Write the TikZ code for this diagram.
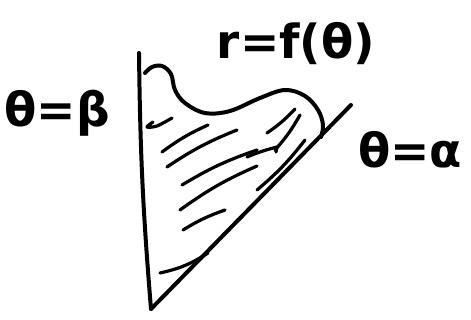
\documentclass[tikz,border=0pt]{standalone}
\usepackage{fontspec}
\setmainfont{DejaVu Sans}
\begin{document}
\begin{tikzpicture}[x=1pt,y=-1pt,
  pen/.style={line width=4pt,line cap=round,line join=round},
  hatch/.style={line width=3.2pt,line cap=round,line join=round},
  lbl/.style={inner sep=0pt,font=\fontsize{47}{52}\selectfont\bfseries}]
\useasboundingbox (0,0) rectangle (471,320);
% boundary rays
\coordinate (top) at (139,53);
\coordinate (apex) at (151,309);
\coordinate (tip) at (351,105);
\draw[pen] (top) to[bend right=2] (apex);
\draw[pen] (apex) -- (tip);
% curve r = f(theta)
\draw[pen] plot[smooth,tension=0.6] coordinates {(145,73) (152,67) (162,66) (171,74) (175,90) (185,103) (205,113) (230,111) (260,98) (285,90) (305,96) (318,110) (323,125) (321,137)};
% hatching
\draw[hatch] plot[smooth] coordinates {(153,122) (147,127) (157,126) (172,118)};
\draw[hatch] (162,152) to[bend left=6] (208,125);
\draw[hatch] (167,167) to[bend left=6] (237,130);
\draw[hatch] (182,185) to[bend left=6] (257,150);
\draw[hatch] (247,157) to[bend left=4] (277,147) -- (276,152);
\draw[hatch] (180,210) to[bend left=6] (257,166);
\draw[hatch] (183,230) to[bend left=6] (225,210);
\draw[hatch] (160,273) to[bend right=10] (208,253);
\draw[hatch] (267,133) to[bend right=6] (295,109);
\draw[hatch] (275,150) to[bend right=6] (300,115);
\draw[hatch] (257,190) to[bend right=6] (305,140);
% labels
\node[lbl] (beta) at (57,113) {θ=β};
\node[lbl] (fr) at (296,44) {r=f(θ)};
\node[lbl] (alpha) at (410,150) {θ=α};
\end{tikzpicture}
\end{document}
